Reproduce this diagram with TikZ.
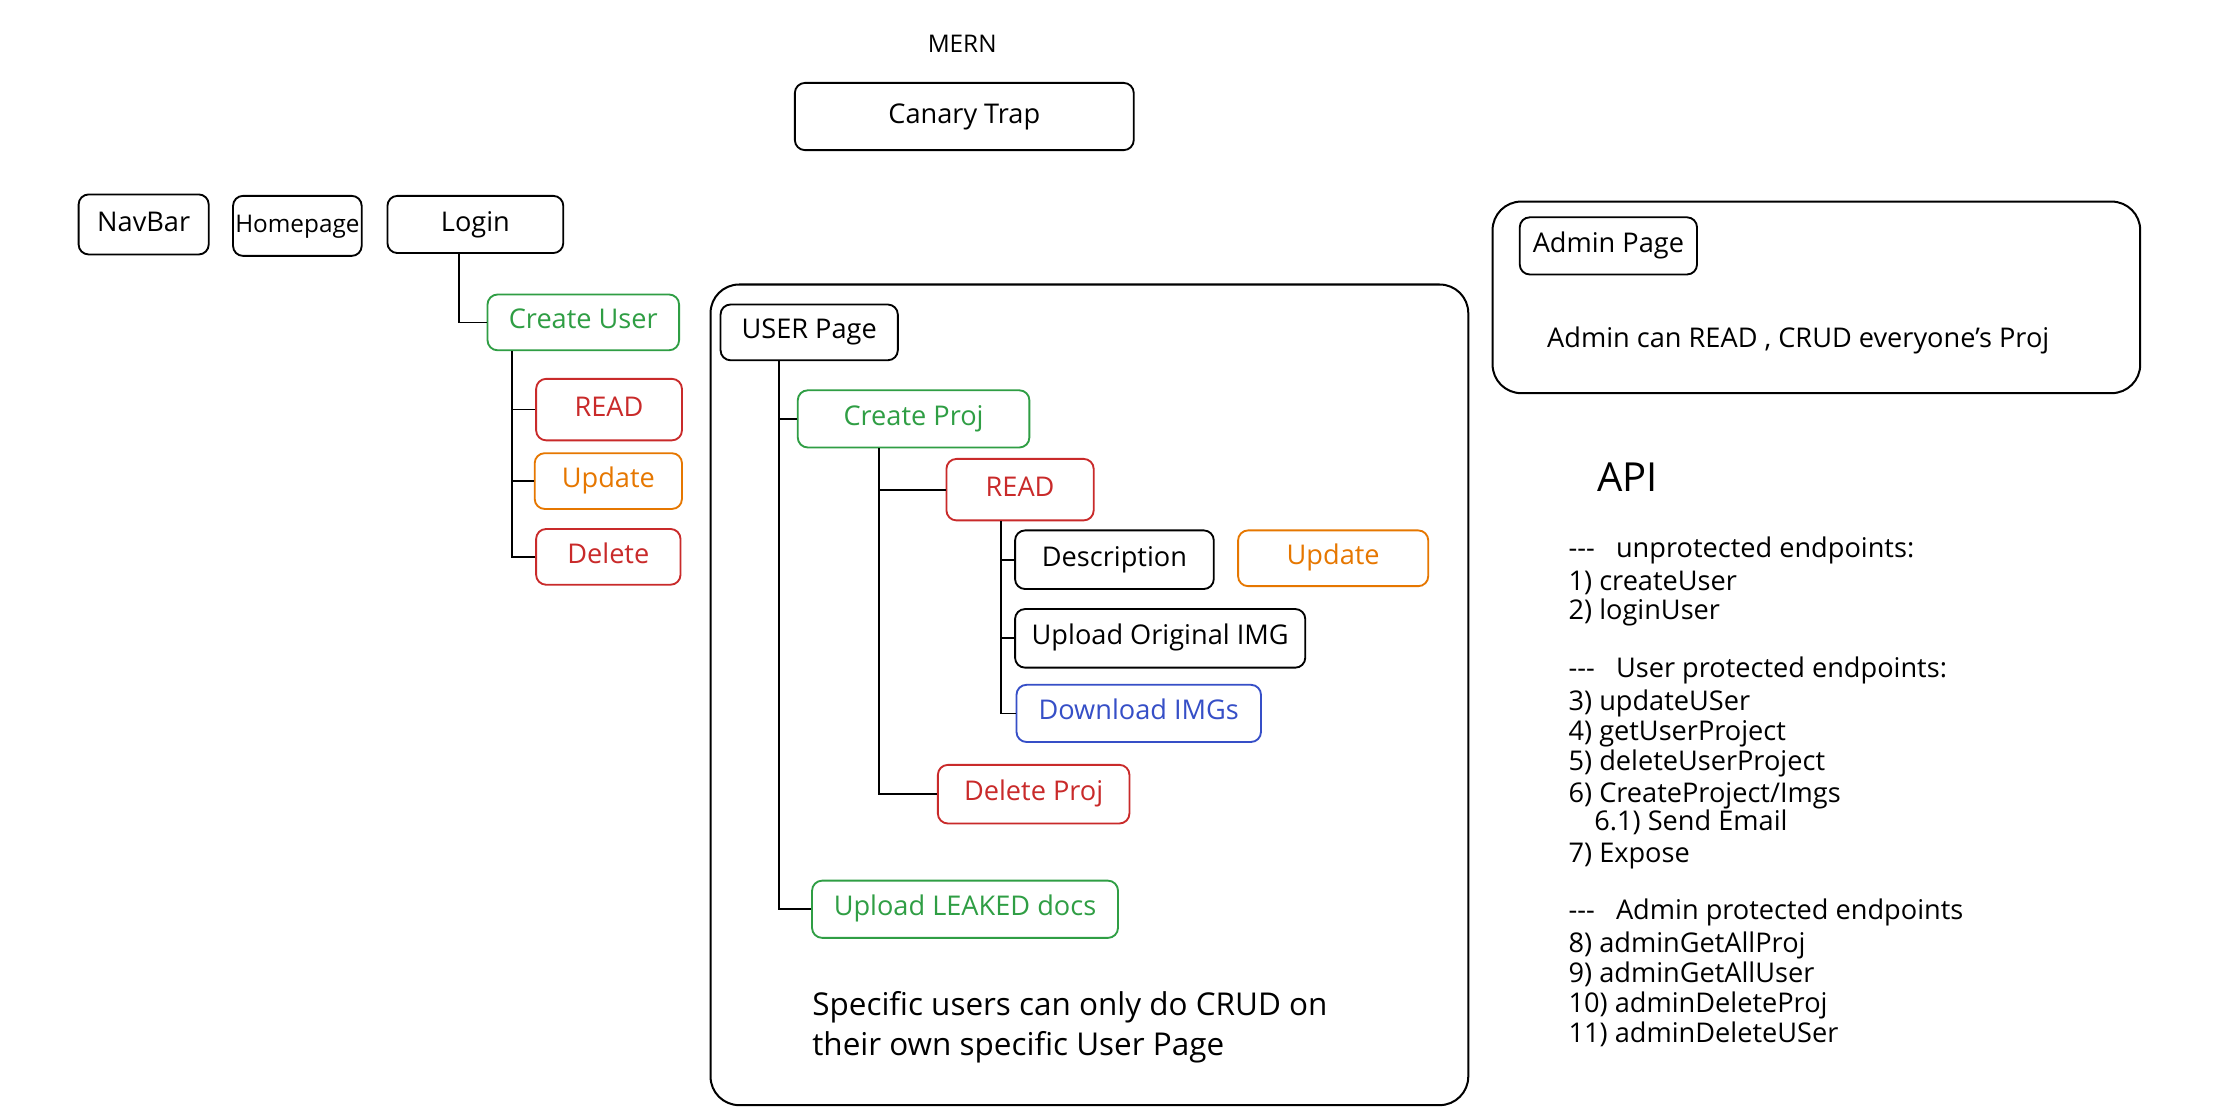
\documentclass[tikz,border=0pt]{standalone}
\usepackage{fontspec}
\setmainfont{Open Sans}
\definecolor{exgreen}{HTML}{2F9E44}
\definecolor{exred}{HTML}{C92A2A}
\definecolor{exorange}{HTML}{E67700}
\definecolor{exblue}{HTML}{364FC7}
\newcommand\bxfont{\fontsize{19}{22}\selectfont}
\newcommand\smbxfont{\fontsize{17}{20}\selectfont}
\newcommand\txfont{\fontsize{19}{22}\selectfont}
\newcommand\bigtxfont{\fontsize{22}{26}\selectfont}
\newcommand\apifont{\fontsize{28}{32}\selectfont}
\begin{document}
\begin{tikzpicture}[x=1pt,y=-1pt,
  box/.style={draw, rounded corners=7pt, line width=1.3pt, inner sep=0pt, font=\bxfont, text height=1.0em, text depth=0.08em},
  gbox/.style={box, draw=exgreen, text=exgreen},
  rbox/.style={box, draw=exred, text=exred},
  obox/.style={box, draw=exorange, text=exorange},
  bbox/.style={box, draw=exblue, text=exblue},
  frame/.style={draw, rounded corners=20pt, line width=1.4pt, inner sep=0pt},
  conn/.style={draw, line width=1.2pt},
  txt/.style={anchor=west, inner sep=0pt, font=\txfont, text height=1.05em, text depth=0.05em},
  bigtxt/.style={txt, font=\bigtxfont},
]
\fill[white] (0,0) rectangle (1564,775);
\useasboundingbox (0,0) rectangle (1564,775);

% title
\node[txt, anchor=center, font=\smbxfont] (mern) at (673,32) {MERN};
\node[box, minimum width=237pt, minimum height=47pt] (canary) at (674.5,81.5) {Canary Trap};

% left column
\node[box, minimum width=91pt, minimum height=42pt] (navbar) at (100.5,157) {NavBar};
\node[box, font=\smbxfont, minimum width=90pt, minimum height=42pt] (homepage) at (208,158) {Homepage};
\node[box, minimum width=123pt, minimum height=40pt] (login) at (332.5,157) {Login};
\node[gbox, minimum width=134pt, minimum height=39pt] (createuser) at (408,225.5) {Create User};
\node[rbox, minimum width=102pt, minimum height=43pt] (read1) at (426,286.5) {READ};
\node[obox, minimum width=103pt, minimum height=39pt] (update1) at (425.5,336.5) {Update};
\node[rbox, minimum width=101pt, minimum height=39pt] (delete1) at (425.5,389.5) {Delete};

\draw[conn] ([xshift=-11.5pt]login.south) |- (createuser.west);
\draw[conn] ([xshift=-50pt]createuser.south) |- (read1.west);
\draw[conn] ([xshift=-50pt]createuser.south) |- (update1.west);
\draw[conn] ([xshift=-50pt]createuser.south) |- (delete1.west);

% user page frame
\node[frame, minimum width=530pt, minimum height=574pt] (userframe) at (762,486) {};
\node[box, minimum width=124pt, minimum height=39pt] (userpage) at (566,232.5) {USER Page};
\node[gbox, minimum width=162pt, minimum height=40pt] (createproj) at (639,293) {Create Proj};
\node[rbox, minimum width=103pt, minimum height=43pt] (read2) at (713.5,342.5) {READ};
\node[box, minimum width=139pt, minimum height=41pt] (description) at (779.5,391.5) {Description};
\node[obox, minimum width=133pt, minimum height=39pt] (update2) at (932.5,390.5) {Update};
\node[box, minimum width=203pt, minimum height=41pt] (uploadorig) at (811.5,446.5) {Upload Original IMG};
\node[bbox, minimum width=171pt, minimum height=40pt] (download) at (796.5,499) {Download IMGs};
\node[rbox, minimum width=134pt, minimum height=41pt] (deleteproj) at (723,555.5) {Delete Proj};
\node[gbox, minimum width=214pt, minimum height=40pt] (leaked) at (675,636) {Upload LEAKED docs};

\draw[conn] ([xshift=-21pt]userpage.south) |- (createproj.west);
\draw[conn] ([xshift=-21pt]userpage.south) |- (leaked.west);
\draw[conn] ([xshift=-24pt]createproj.south) |- (read2.west);
\draw[conn] ([xshift=-24pt]createproj.south) |- (deleteproj.west);
\draw[conn] ([xshift=-13.5pt]read2.south) |- (description.west);
\draw[conn] ([xshift=-13.5pt]read2.south) |- (uploadorig.west);
\draw[conn] ([xshift=-13.5pt]read2.south) |- (download.west);

\node[bigtxt] (spec1) at (568,705) {Specific users can only do CRUD on};
\node[bigtxt] (spec2) at (568,733) {their own specific User Page};

% admin frame
\node[frame, minimum width=453pt, minimum height=134pt] (adminframe) at (1270.5,208) {};
\node[box, minimum width=124pt, minimum height=40pt] (adminpage) at (1125,172) {Admin Page};
\node[txt] (admintxt) at (1082,238) {Admin can READ , CRUD everyone's Proj};

% API
\node[txt, font=\apifont] (api) at (1117,339) {API};
\node[txt] (a1) at (1097,385) {-{}-{}-\ \ \ unprotected endpoints:};
\node[txt] (a2) at (1097,408) {1) createUser};
\node[txt] (a3) at (1097,428) {2) loginUser};
\node[txt] (a4) at (1097,469) {-{}-{}-\ \ \ User protected endpoints:};
\node[txt] (a5) at (1097,492) {3) updateUSer};
\node[txt] (a6) at (1097,513) {4) getUserProject};
\node[txt] (a7) at (1097,534) {5) deleteUserProject};
\node[txt] (a8) at (1097,556) {6) CreateProject/Imgs};
\node[txt] (a9) at (1115,576) {6.1) Send Email};
\node[txt] (a10) at (1097,598) {7) Expose};
\node[txt] (a11) at (1097,638) {-{}-{}-\ \ \ Admin protected endpoints};
\node[txt] (a12) at (1097,661) {8) adminGetAllProj};
\node[txt] (a13) at (1097,682) {9) adminGetAllUser};
\node[txt] (a14) at (1097,703) {10) adminDeleteProj};
\node[txt] (a15) at (1097,724) {11) adminDeleteUSer};
\end{tikzpicture}
\end{document}
